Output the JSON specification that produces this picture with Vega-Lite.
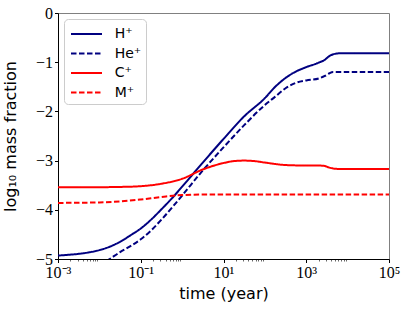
{
  "$schema": "https://vega.github.io/schema/vega-lite/v6.json",
  "width": 331,
  "height": 246,
  "autosize": {"type": "none"},
  "padding": {"left": 58, "top": 13, "right": 18, "bottom": 52},
  "background": "white",
  "config": {
    "view": {"stroke": "#808080", "strokeWidth": 1},
    "axis": {"grid": false, "domainColor": "black", "tickColor": "black", "labelColor": "black", "titleColor": "black"}
  },
  "data": {
    "values": [
      {"t": 0.001, "v": -4.93, "ion": "H⁺"},
      {"t": 0.001778, "v": -4.915, "ion": "H⁺"},
      {"t": 0.003162, "v": -4.895, "ion": "H⁺"},
      {"t": 0.005623, "v": -4.865, "ion": "H⁺"},
      {"t": 0.01, "v": -4.82, "ion": "H⁺"},
      {"t": 0.01778, "v": -4.75, "ion": "H⁺"},
      {"t": 0.03162, "v": -4.65, "ion": "H⁺"},
      {"t": 0.05623, "v": -4.52, "ion": "H⁺"},
      {"t": 0.1, "v": -4.38, "ion": "H⁺"},
      {"t": 0.1778, "v": -4.2, "ion": "H⁺"},
      {"t": 0.3162, "v": -3.99, "ion": "H⁺"},
      {"t": 0.5623, "v": -3.77, "ion": "H⁺"},
      {"t": 1, "v": -3.53, "ion": "H⁺"},
      {"t": 3.162, "v": -3.04, "ion": "H⁺"},
      {"t": 10, "v": -2.56, "ion": "H⁺"},
      {"t": 31.62, "v": -2.1, "ion": "H⁺"},
      {"t": 100, "v": -1.73, "ion": "H⁺"},
      {"t": 177.8, "v": -1.5, "ion": "H⁺"},
      {"t": 316.2, "v": -1.32, "ion": "H⁺"},
      {"t": 562.3, "v": -1.19, "ion": "H⁺"},
      {"t": 1000, "v": -1.1, "ion": "H⁺"},
      {"t": 1995, "v": -1.01, "ion": "H⁺"},
      {"t": 2818, "v": -0.95, "ion": "H⁺"},
      {"t": 3548, "v": -0.88, "ion": "H⁺"},
      {"t": 4467, "v": -0.84, "ion": "H⁺"},
      {"t": 6310, "v": -0.82, "ion": "H⁺"},
      {"t": 10000, "v": -0.82, "ion": "H⁺"},
      {"t": 100000, "v": -0.82, "ion": "H⁺"},

      {"t": 0.01, "v": -5.13, "ion": "He⁺"},
      {"t": 0.01778, "v": -5.0, "ion": "He⁺"},
      {"t": 0.03162, "v": -4.86, "ion": "He⁺"},
      {"t": 0.05623, "v": -4.74, "ion": "He⁺"},
      {"t": 0.1, "v": -4.6, "ion": "He⁺"},
      {"t": 0.1778, "v": -4.42, "ion": "He⁺"},
      {"t": 0.3162, "v": -4.2, "ion": "He⁺"},
      {"t": 0.5623, "v": -3.96, "ion": "He⁺"},
      {"t": 1, "v": -3.71, "ion": "He⁺"},
      {"t": 3.162, "v": -3.2, "ion": "He⁺"},
      {"t": 10, "v": -2.73, "ion": "He⁺"},
      {"t": 31.62, "v": -2.28, "ion": "He⁺"},
      {"t": 100, "v": -1.87, "ion": "He⁺"},
      {"t": 177.8, "v": -1.7, "ion": "He⁺"},
      {"t": 316.2, "v": -1.53, "ion": "He⁺"},
      {"t": 562.3, "v": -1.42, "ion": "He⁺"},
      {"t": 1000, "v": -1.37, "ion": "He⁺"},
      {"t": 1995, "v": -1.33, "ion": "He⁺"},
      {"t": 2818, "v": -1.28, "ion": "He⁺"},
      {"t": 3548, "v": -1.23, "ion": "He⁺"},
      {"t": 4467, "v": -1.2, "ion": "He⁺"},
      {"t": 6310, "v": -1.2, "ion": "He⁺"},
      {"t": 100000, "v": -1.2, "ion": "He⁺"},

      {"t": 0.001, "v": -3.54, "ion": "C⁺"},
      {"t": 0.01, "v": -3.54, "ion": "C⁺"},
      {"t": 0.03162, "v": -3.535, "ion": "C⁺"},
      {"t": 0.1, "v": -3.52, "ion": "C⁺"},
      {"t": 0.3162, "v": -3.47, "ion": "C⁺"},
      {"t": 1, "v": -3.37, "ion": "C⁺"},
      {"t": 3.162, "v": -3.18, "ion": "C⁺"},
      {"t": 10, "v": -3.05, "ion": "C⁺"},
      {"t": 17.78, "v": -3.01, "ion": "C⁺"},
      {"t": 31.62, "v": -3.0, "ion": "C⁺"},
      {"t": 56.23, "v": -3.01, "ion": "C⁺"},
      {"t": 100, "v": -3.04, "ion": "C⁺"},
      {"t": 316.2, "v": -3.09, "ion": "C⁺"},
      {"t": 1000, "v": -3.1, "ion": "C⁺"},
      {"t": 1995, "v": -3.1, "ion": "C⁺"},
      {"t": 2818, "v": -3.11, "ion": "C⁺"},
      {"t": 3548, "v": -3.14, "ion": "C⁺"},
      {"t": 4467, "v": -3.16, "ion": "C⁺"},
      {"t": 6310, "v": -3.17, "ion": "C⁺"},
      {"t": 100000, "v": -3.17, "ion": "C⁺"},

      {"t": 0.001, "v": -3.86, "ion": "M⁺"},
      {"t": 0.01, "v": -3.85, "ion": "M⁺"},
      {"t": 0.03162, "v": -3.83, "ion": "M⁺"},
      {"t": 0.1, "v": -3.79, "ion": "M⁺"},
      {"t": 0.3162, "v": -3.74, "ion": "M⁺"},
      {"t": 1, "v": -3.7, "ion": "M⁺"},
      {"t": 3.162, "v": -3.69, "ion": "M⁺"},
      {"t": 10, "v": -3.69, "ion": "M⁺"},
      {"t": 1000, "v": -3.69, "ion": "M⁺"},
      {"t": 100000, "v": -3.69, "ion": "M⁺"}
    ]
  },
  "mark": {"type": "line", "strokeWidth": 2, "interpolate": "monotone", "clip": true},
  "encoding": {
    "x": {
      "field": "t",
      "type": "quantitative",
      "scale": {"type": "log", "domain": [0.001, 100000], "nice": false},
      "axis": {
        "values": [0.001, 0.002, 0.003, 0.004, 0.005, 0.006, 0.007, 0.008, 0.009, 0.1, 0.2, 0.3, 0.4, 0.5, 0.6, 0.7, 0.8, 0.9, 10, 20, 30, 40, 50, 60, 70, 80, 90, 1000, 2000, 3000, 4000, 5000, 6000, 7000, 8000, 9000, 100000],
        "labelExpr": "datum.value == 0.001 ? '10⁻³' : datum.value == 0.1 ? '10⁻¹' : datum.value == 10 ? '10¹' : datum.value == 1000 ? '10³' : datum.value == 100000 ? '10⁵' : ''",
        "labelOverlap": false,
        "labelFlush": false,
        "labelFont": "Liberation Serif",
        "labelFontSize": 16,
        "labelPadding": 2,
        "tickSize": {"condition": {"test": "datum.value == 0.001 || datum.value == 0.1 || datum.value == 10 || datum.value == 1000 || datum.value == 100000", "value": 3.5}, "value": 2},
        "tickWidth": {"condition": {"test": "datum.value == 0.001 || datum.value == 0.1 || datum.value == 10 || datum.value == 1000 || datum.value == 100000", "value": 1}, "value": 0.6},
        "title": "time (year)",
        "titleFont": "DejaVu Sans",
        "titleFontSize": 16,
        "titleFontWeight": "normal",
        "titlePadding": 5
      }
    },
    "y": {
      "field": "v",
      "type": "quantitative",
      "scale": {"domain": [-5, 0], "nice": false, "zero": false},
      "axis": {
        "values": [-5, -4, -3, -2, -1, 0],
        "labelFont": "Liberation Serif",
        "labelFontSize": 16,
        "labelPadding": 2,
        "tickSize": 3.5,
        "title": "log₁₀ mass fraction",
        "titleFont": "DejaVu Sans",
        "titleFontSize": 16,
        "titleFontWeight": "normal",
        "titlePadding": 17
      }
    },
    "color": {
      "field": "ion",
      "type": "nominal",
      "scale": {"domain": ["H⁺", "He⁺", "C⁺", "M⁺"], "range": ["#000080", "#000080", "#ff0000", "#ff0000"]},
      "legend": {
        "title": null,
        "orient": "none",
        "legendX": 6,
        "legendY": 6,
        "symbolType": "M-0.8,0H2.3",
        "symbolSize": 400,
        "symbolStrokeWidth": 2,
        "labelFont": "DejaVu Sans",
        "labelFontSize": 14,
        "labelOffset": 24.7,
        "padding": 4,
        "rowPadding": 1.5,
        "strokeColor": "#cccccc",
        "fillColor": "white",
        "cornerRadius": 4
      }
    },
    "strokeDash": {
      "field": "ion",
      "type": "nominal",
      "scale": {"domain": ["H⁺", "He⁺", "C⁺", "M⁺"], "range": [[1, 0], [5.5, 2.5], [1, 0], [5.5, 2.5]]},
      "legend": {
        "title": null,
        "orient": "none",
        "legendX": 6,
        "legendY": 6,
        "symbolType": "M-0.8,0H2.3",
        "symbolSize": 400,
        "symbolStrokeWidth": 2,
        "labelFont": "DejaVu Sans",
        "labelFontSize": 14,
        "labelOffset": 24.7,
        "padding": 4,
        "rowPadding": 1.5,
        "strokeColor": "#cccccc",
        "fillColor": "white",
        "cornerRadius": 4
      }
    }
  }
}
